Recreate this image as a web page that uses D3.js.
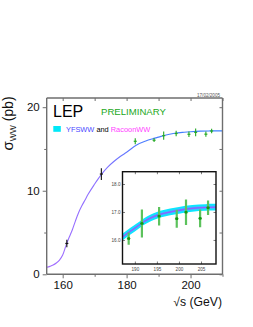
<!DOCTYPE html>
<html><head><meta charset="utf-8">
<script src="https://cdn.jsdelivr.net/npm/d3@7"></script>
<style>body{margin:0;background:#fff}svg{display:block}text{font-family:"Liberation Sans",Arial,Helvetica,sans-serif}</style>
</head><body><svg id="c" width="253" height="327"></svg>
<script>
// theory curve (YFSWW / RacoonWW), sqrt(s) in GeV and sigma in pb
const energies = [155,156,157,158,159,160,161,162,163,164,165,166,167,168,170,172,174,176,178,180,183,186,188,190,192,195,198,200,203,206,208,210];
const sigmaTheory = [0.84,0.95,1.1,1.35,1.7,2.3,3.4,4.4,5.3,6.4,7.4,8.2,8.9,9.6,10.8,11.9,12.8,13.5,14.1,14.6,15.45,15.95,16.2,16.42,16.65,16.88,17.0,17.06,17.13,17.16,17.17,17.17];
// early measurements (black)
const thrE = [161.3,172.1];
const thrS = [3.69,12.0];
const thrErr = [0.45,0.7];
// LEP2 measurements (green)
const lepE = [182.7,188.6,191.6,195.5,199.5,201.6,204.8,206.6];
const lepS = [15.92,16.05,16.59,16.85,16.76,16.99,16.77,17.15];
const lepErr = [0.37,0.22,0.50,0.33,0.32,0.46,0.32,0.26];
// ticks
const mainXTicks = [160,170,180,190,200,210];
const mainXLabels = [160,180,200];
const mainYTicks = [0,5,10,15,20];
const mainYLabels = [0,10,20];
const insetXTicks = [190,195,200,205];
const insetYTicks = [16,17,18];

const svg = d3.select("#c");
const x = d3.scaleLinear().domain([155,210]).range([46.7,222.5]);
const y = d3.scaleLinear().domain([0,21.1]).range([274.3,98]);
const axisCol = "#6e6e6e";

// gradient for main curve
const defs = svg.append("defs");
const gr = defs.append("linearGradient").attr("id","cg").attr("gradientUnits","userSpaceOnUse")
  .attr("x1",x(155)).attr("x2",x(210)).attr("y1",0).attr("y2",0);
gr.append("stop").attr("offset","0%").attr("stop-color","#a46cff");
gr.append("stop").attr("offset","30%").attr("stop-color","#8a70ff");
gr.append("stop").attr("offset","55%").attr("stop-color","#4a7cff");
gr.append("stop").attr("offset","100%").attr("stop-color","#3c82ff");

const pts = energies.map((e,i)=>[e,sigmaTheory[i]]);
const line = d3.line().x(d=>x(d[0])).y(d=>y(d[1])).curve(d3.curveMonotoneX);
svg.append("path").attr("d",line(pts)).attr("fill","none").attr("stroke","url(#cg)").attr("stroke-width",1.1);

// frame and axes
const g = svg.append("g");
const fmtX = d=> mainXLabels.includes(d)? d : "";
const fmtY = d=> mainYLabels.includes(d)? d : "";
const bx = g.append("g").attr("transform",`translate(0,${y.range()[0]})`)
  .call(d3.axisBottom(x).tickValues(mainXTicks).tickFormat(fmtX).tickSize(4).tickPadding(3));
bx.selectAll(".tick line").attr("y2",d=>mainXLabels.includes(d)?4:2.5);
const ty = g.append("g").attr("transform",`translate(0,${y.range()[1]})`)
  .call(d3.axisTop(x).tickValues(mainXTicks).tickFormat("").tickSize(-3));
const ly = g.append("g").attr("transform",`translate(${x.range()[0]},0)`)
  .call(d3.axisLeft(y).tickValues(mainYTicks).tickFormat(fmtY).tickSize(4).tickPadding(3));
ly.selectAll(".tick line").attr("x2",d=>mainYLabels.includes(d)?-4:-2.5);
const ry = g.append("g").attr("transform",`translate(${x.range()[1]},0)`)
  .call(d3.axisRight(y).tickValues(mainYTicks).tickFormat("").tickSize(-3));
[bx,ty,ly,ry].forEach(a=>{
  a.select(".domain").attr("stroke",axisCol).attr("stroke-width",1.4);
  a.selectAll(".tick line").attr("stroke",axisCol).attr("stroke-width",1);
  a.selectAll("text").attr("font-size",11.5).attr("fill","#111").attr("font-family","Liberation Sans, Arial, sans-serif");
});
ty.select(".domain").attr("d",`M${x.range()[0]},0H${x.range()[1]}`);
ry.select(".domain").attr("d",`M0,${y.range()[0]}V${y.range()[1]}`);
ly.select(".domain").attr("d",`M0,${y.range()[0]}V${y.range()[1]}`);
bx.select(".domain").attr("d",`M${x.range()[0]},0H${x.range()[1]}`);

// error-bar helper
function drawPoints(grp, xs, ys, es, sx, sy, col, w, cap){
  xs.forEach((e,i)=>{
    grp.append("line").attr("x1",sx(e)).attr("x2",sx(e)).attr("y1",sy(ys[i]-es[i])).attr("y2",sy(ys[i]+es[i]))
      .attr("stroke",col).attr("stroke-width",w);
    grp.append("line").attr("x1",sx(e)-cap).attr("x2",sx(e)+cap).attr("y1",sy(ys[i])).attr("y2",sy(ys[i]))
      .attr("stroke",col).attr("stroke-width",1.2);
  });
}
const pg = svg.append("g");
drawPoints(pg, thrE, thrS, thrErr, x, y, "#111", 1.1, 1.5);
drawPoints(pg, lepE, lepS, lepErr, x, y, "#22a822", 1.1, 1.5);

// texts
svg.append("text").attr("x",53).attr("y",116.8).attr("font-size",16).attr("fill","#000").text("LEP");
svg.append("text").attr("x",101).attr("y",115.3).attr("font-size",9.6).attr("fill","#22a822").text("PRELIMINARY");
svg.append("rect").attr("x",53.3).attr("y",126).attr("width",7.5).attr("height",5.8).attr("fill","#00e8f8");
const lt = svg.append("text").attr("x",66).attr("y",131.6).attr("font-size",7.4);
lt.append("tspan").attr("fill","#4848ff").text("YFSWW");
lt.append("tspan").attr("fill","#000").text(" and ");
lt.append("tspan").attr("fill","#ff40ff").text("RacoonWW");
svg.append("text").attr("x",220).attr("y",97).attr("text-anchor","end").attr("font-size",4.6).attr("fill","#555").text("17/02/2005");

svg.append("text").attr("x",222).attr("y",306.3).attr("text-anchor","end").attr("font-size",12.2).attr("fill","#111").text("√s (GeV)");
const yl = svg.append("text").attr("transform","translate(13,123.5) rotate(-90)").attr("text-anchor","middle").attr("font-size",14).attr("fill","#111");
yl.append("tspan").attr("font-size",15).text("σ");
yl.append("tspan").attr("font-size",8.5).attr("dy",3).text("WW");
yl.append("tspan").attr("dy",-3).text(" (pb)");

// inset
const ix = d3.scaleLinear().domain([187.2,208.4]).range([122.5,216]);
const iy = d3.scaleLinear().domain([15.14,18.44]).range([264,171.7]);
const ig = svg.append("g");
ig.append("rect").attr("x",122.5).attr("y",171.7).attr("width",216-122.5).attr("height",264-171.7).attr("fill","#fff");
const clip = defs.append("clipPath").attr("id","ic");
clip.append("rect").attr("x",122.5).attr("y",171.7).attr("width",216-122.5).attr("height",264-171.7);
const ip = ig.append("g").attr("clip-path","url(#ic)");
const ipts = pts.filter(d=>d[0]>=186);
const area = (dw)=>d3.area().x(d=>ix(d[0])).y0(d=>iy(d[1]-dw)).y1(d=>iy(d[1]+dw)).curve(d3.curveMonotoneX);
ip.append("path").attr("d",area(0.12)(ipts)).attr("fill","#08e8ff");
ip.append("path").attr("d",area(0.065)(ipts)).attr("fill","#38c4ff");
ip.append("path").attr("d",area(0.03)(ipts)).attr("fill","#5a8cff");
const iline = d3.line().x(d=>ix(d[0])).y(d=>iy(d[1])).curve(d3.curveMonotoneX);
ip.append("path").attr("d",iline(ipts)).attr("fill","none").attr("stroke","#b048ff").attr("stroke-width",0.8);
// inset points
lepE.forEach((e,i)=>{
  if(e<ix.domain()[0]) return;
  ip.append("line").attr("x1",ix(e)).attr("x2",ix(e)).attr("y1",iy(lepS[i]-lepErr[i])).attr("y2",iy(lepS[i]+lepErr[i]))
    .attr("stroke","#5cc25c").attr("stroke-width",2.2);
  ip.append("rect").attr("x",ix(e)-1.3).attr("y",iy(lepS[i])-1.3).attr("width",2.6).attr("height",2.6).attr("fill","#139a13");
  ip.append("line").attr("x1",ix(e)-1.8).attr("x2",ix(e)+1.8).attr("y1",iy(lepS[i])).attr("y2",iy(lepS[i])).attr("stroke","#139a13").attr("stroke-width",0.8);
});
// inset axes
const ia = [
  ig.append("g").attr("transform","translate(0,264)").call(d3.axisBottom(ix).tickValues(insetXTicks).tickSize(-2.5).tickPadding(3.5)),
  ig.append("g").attr("transform","translate(0,171.7)").call(d3.axisTop(ix).tickValues(insetXTicks).tickFormat("").tickSize(-2.5)),
  ig.append("g").attr("transform","translate(122.5,0)").call(d3.axisLeft(iy).tickValues(insetYTicks).tickSize(-2.5).tickPadding(2)),
  ig.append("g").attr("transform","translate(216,0)").call(d3.axisRight(iy).tickValues(insetYTicks).tickFormat("").tickSize(-2.5))
];
ia.forEach(a=>{
  a.select(".domain").remove();
  a.selectAll(".tick line").attr("stroke","#222").attr("stroke-width",0.6);
  a.selectAll("text").attr("font-size",4.6).attr("fill","#444").attr("font-family","Liberation Sans, Arial, sans-serif");
});
ig.append("rect").attr("x",122.5).attr("y",171.7).attr("width",216-122.5).attr("height",264-171.7)
  .attr("fill","none").attr("stroke","#111").attr("stroke-width",1.4);
</script></body></html>
